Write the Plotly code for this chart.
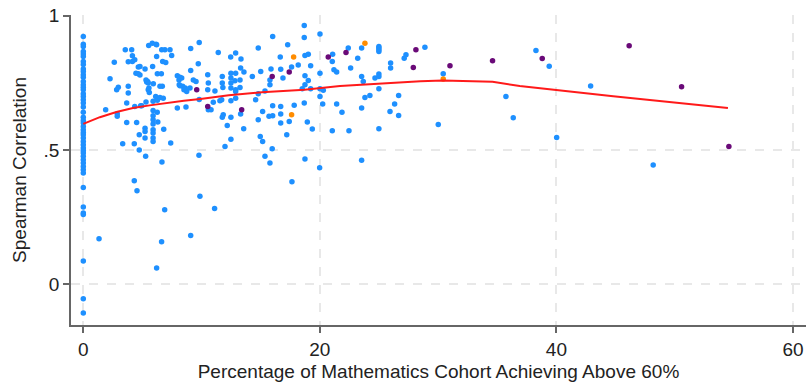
import plotly.graph_objects as go

# ---- data ----
zero_x_y = [.923, .894, .886, .867, .858, .848, .830, .818, .802, .792, .780, .771, .755, .743,
            .734, .724, .709, .699, .687, .675, .660, .640, .622, .610, .600, .587, .575, .565,
            .556, .544, .531, .519, .507, .498, .488, .476, .463, .451, .438, .426, .414, .360,
            .287, .265, .259, .086, -.055, -.108]

blue_x = [1.33, 1.89, 2.26, 2.62, 2.82, 2.96, 2.87, 2.87, 3.33, 3.55, 3.67, 3.67, 3.8, 3.8, 3.8,
          4.09, 4.15, 4.15, 4.35, 4.31, 4.31, 4.54, 4.35, 4.51, 4.45, 4.65, 4.79, 4.65, 4.73, 4.73,
          4.85, 4.94, 4.79, 5.22, 5.22, 5.22, 5.22, 5.27, 5.3, 5.44, 5.36, 5.49, 5.3, 5.53, 5.49,
          5.58, 5.55, 5.83, 6.15, 6.2, 5.86, 5.9, 5.9, 5.9, 5.9, 5.9, 5.9, 5.9, 5.9, 5.9, 5.92,
          6.12, 6.2, 6.26, 6.25, 6.3, 6.26, 6.48, 6.76, 6.71, 6.63, 6.9, 6.97, 6.8, 6.68, 6.48,
          6.65, 6.6, 7.39, 7.33, 7.47, 7.95, 8.09, 8.32, 8.17, 8.4, 8.62, 8.51, 8.74, 8.11, 8.17,
          9.02, 7.95, 8.68, 9.08, 9.08, 9.3, 9.53, 9.78, 9.86, 9.72, 9.8, 9.8, 6.88, 9.08, 6.62,
          6.2, 11.1, 12.48, 14.96, 15.16, 17.2, 11.98, 15.97, 15.36, 15.78, 18.74, 19.98, 17.64,
          23.53, 10.52, 10.57, 10.52, 10.57, 10.8, 10.99, 11.13, 11.41, 11.55, 11.7, 11.75, 11.8,
          11.75, 11.83, 11.75, 12.17, 12.46, 12.48, 12.48, 12.48, 12.48, 12.48, 12.48, 12.88,
          12.88, 12.82, 12.88, 12.88, 12.88, 13.33, 13.3, 13.58, 13.25, 13.25, 13.3, 13.56, 14.29,
          14.57, 14.79, 14.79, 14.79, 15.0, 15.16, 15.36, 15.7, 15.78, 15.78, 15.87, 16.01, 16.01,
          16.01, 16.65, 16.69, 16.69, 16.69, 16.69, 16.88, 17.28, 17.41, 17.61, 17.83, 18.17,
          18.51, 18.68, 18.68, 18.68, 18.74, 19.02, 19.22, 18.74, 19.02, 18.74, 19.22, 18.94,
          19.36, 20.01, 20.01, 20.01, 20.29, 20.01, 20.24, 21.08, 21.05, 21.19, 21.42, 21.42,
          21.05, 21.87, 22.4, 22.46, 22.6, 23.2, 23.53, 23.53, 23.67, 23.53, 23.81, 24.23, 24.66,
          24.99, 24.99, 24.99, 24.99, 24.99, 24.99, 24.99, 24.99, 25.98, 25.98, 25.93, 26.32,
          26.66, 26.66, 27.13, 27.28, 28.88, 30.01, 30.43, 35.73, 36.35, 38.27, 39.39, 40.02,
          42.89, 48.18]
blue_y = [.169, .650, .765, .827, .724, .734, .635, .625, .523, .873, .602, .675, .737, .829, .712,
          .873, .851, .830, .836, .523, .385, .348, .662, .602, .786, .784, .779, .809, .556, .500,
          .665, .665, .811, .802, .581, .569, .544, .476, .761, .755, .753, .749, .679, .889, .724,
          .714, .731, .898, .894, .892, .811, .681, .647, .627, .612, .597, .575, .563, .544, .531,
          .747, .699, .848, .784, .640, .604, .685, .695, .693, .830, .873, .873, .826, .577, .737,
          .737, .455, .784, .526, .873, .852, .776, .761, .768, .771, .737, .731, .724, .718, .743,
          .739, .731, .656, .660, .878, .796, .761, .755, .480, .327, .821, .900, .688, .277, .181,
          .157, .060, .281, .540, .550, .531, .556, .513, .504, .476, .451, .466, .433, .381, .461,
          .780, .749, .724, .650, .650, .678, .720, .863, .683, .687, .774, .733, .749, .631, .622,
          .591, .846, .786, .768, .749, .731, .683, .622, .861, .786, .758, .693, .724, .718, .839,
          .805, .790, .761, .733, .634, .579, .774, .687, .709, .880, .612, .792, .643, .720, .625,
          .761, .743, .802, .923, .665, .627, .846, .801, .662, .634, .600, .768, .892, .606, .809,
          .666, .817, .728, .675, .919, .964, .852, .857, .814, .776, .759, .743, .728, .604, .578,
          .932, .786, .728, .722, .699, .671, .857, .830, .799, .790, .671, .571, .640, .880, .571,
          .805, .842, .880, .774, .755, .656, .695, .703, .768, .886, .880, .873, .867, .783, .774,
          .728, .579, .824, .805, .643, .671, .703, .628, .842, .855, .883, .595, .784, .699, .620,
          .871, .812, .546, .738, .444]

purple_x = [9.59, 10.52, 13.39, 15.97, 17.41, 20.71, 22.21, 27.9, 28.12, 31.0, 34.6, 38.8, 46.15, 50.58, 54.58]
purple_y = [.724, .662, .650, .774, .790, .846, .863, .807, .873, .814, .832, .841, .888, .735, .513]

orange_x = [17.78, 17.61, 23.81, 30.43]
orange_y = [.846, .631, .898, .764]

fit_x = [0, 1.4, 2.8, 4.2, 5.6, 7.0, 8.5, 9.9, 12.3, 15.1, 18.7, 21.7, 25.1, 28.5, 30.4, 34.6, 36.9, 40.0, 44.8, 54.5]
fit_y = [.597, .622, .641, .656, .666, .675, .683, .690, .704, .715, .724, .738, .748, .756, .759, .754, .738, .722, .700, .656]

x_ticks = [0, 20, 40, 60]
x_tick_labels = ["0", "20", "40", "60"]
y_ticks = [0, 0.5, 1]
y_tick_labels = ["0", ".5", "1"]

BLUE = "#1E90FF"
PURPLE = "#6A0A78"
ORANGE = "#FF8C00"
MSIZE = 5.5

fig = go.Figure()
fig.add_trace(go.Scatter(x=[0] * len(zero_x_y), y=zero_x_y, mode="markers",
                         marker=dict(color=BLUE, size=MSIZE), showlegend=False))
fig.add_trace(go.Scatter(x=blue_x, y=blue_y, mode="markers",
                         marker=dict(color=BLUE, size=MSIZE), showlegend=False))
fig.add_trace(go.Scatter(x=purple_x, y=purple_y, mode="markers",
                         marker=dict(color=PURPLE, size=MSIZE), showlegend=False))
fig.add_trace(go.Scatter(x=orange_x, y=orange_y, mode="markers",
                         marker=dict(color=ORANGE, size=MSIZE), showlegend=False))
fig.add_trace(go.Scatter(x=fit_x, y=fit_y, mode="lines",
                         line=dict(color="#FF1A1A", width=2), showlegend=False))

font_family = "Liberation Sans, Arial, sans-serif"
FS = 19
fig.update_layout(
    width=806, height=387,
    margin=dict(l=71, r=0, t=15, b=62),
    paper_bgcolor="white", plot_bgcolor="white",
    font=dict(family=font_family, size=FS, color="#222"),
    xaxis=dict(range=[-1.04, 61.1], tickvals=x_ticks, ticktext=x_tick_labels,
               showline=True, linecolor="#666", linewidth=1.5,
               ticks="outside", ticklen=6, tickcolor="#666", tickwidth=1.5,
               showgrid=True, gridcolor="#e8e8e8", gridwidth=1.5, griddash="dash",
               zeroline=False,
               title=dict(text="Percentage of Mathematics Cohort Achieving Above 60%",
                          font=dict(size=FS), standoff=6),
               tickfont=dict(size=FS)),
    yaxis=dict(range=[-0.153, 1.003], tickvals=y_ticks, ticktext=y_tick_labels,
               showline=True, linecolor="#666", linewidth=1.5,
               ticks="outside", ticklen=6, tickcolor="#666", tickwidth=1.5,
               showgrid=True, gridcolor="#e8e8e8", gridwidth=1.5, griddash="dash",
               zeroline=False,
               title=dict(text="Spearman Correlation", font=dict(size=FS), standoff=12),
               tickfont=dict(size=FS)),
)

fig.write_html("out.html")
